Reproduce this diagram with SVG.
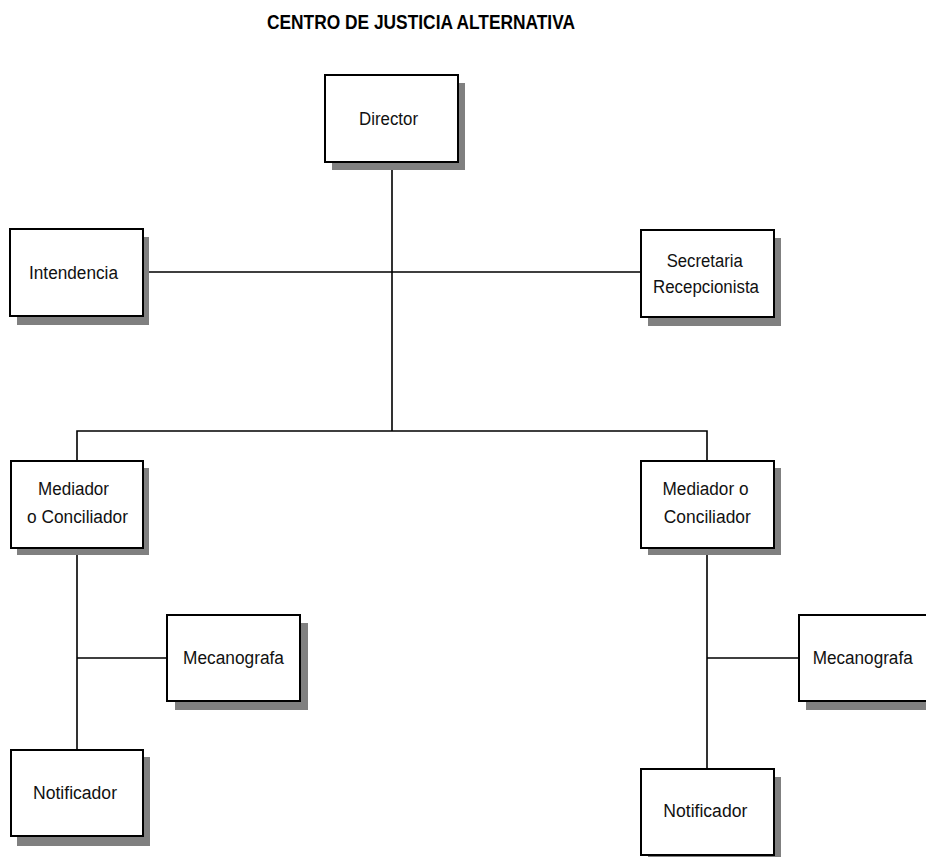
<svg xmlns="http://www.w3.org/2000/svg" width="926" height="857" viewBox="0 0 926 857">
<style>
.sh{fill:#808080;stroke:none}
.bx{fill:#fff;stroke:#000;stroke-width:2}
.t{font-family:"Liberation Sans",Arial,sans-serif;font-size:18px;fill:#111;text-anchor:middle}
.ttl{font-family:"Liberation Sans",Arial,sans-serif;font-size:20px;font-weight:bold;fill:#000}
.c{stroke:#000;stroke-width:1.6;fill:none}
</style>
<rect width="926" height="857" fill="#fff"/>
<text class="ttl" x="267" y="29" textLength="308" lengthAdjust="spacingAndGlyphs">CENTRO DE JUSTICIA ALTERNATIVA</text>
<g id="connectors">
<path class="c" d="M392 162V431M143 272H641M77 461V431H707V461M77 548V750M77 658H167M707 548V769M707 658H799"/>
</g>
<g id="director">
<rect class="sh" x="332" y="83" width="133" height="87"/>
<rect class="bx" x="325" y="75" width="133" height="87"/>
<text class="t" x="388.5" y="125" textLength="59" lengthAdjust="spacingAndGlyphs">Director</text>
</g>
<g id="intendencia">
<rect class="sh" x="17" y="237" width="132" height="88"/>
<rect class="bx" x="10" y="229" width="133" height="87"/>
<text class="t" x="73.5" y="279" textLength="89" lengthAdjust="spacingAndGlyphs">Intendencia</text>
</g>
<g id="secretaria">
<rect class="sh" x="648" y="238" width="133" height="88"/>
<rect class="bx" x="641" y="230" width="133" height="87"/>
<text class="t" x="704.7" y="266.7" textLength="76" lengthAdjust="spacingAndGlyphs">Secretaria</text>
<text class="t" x="706" y="292.7" textLength="106" lengthAdjust="spacingAndGlyphs">Recepcionista</text>
</g>
<g id="mediador-izq">
<rect class="sh" x="17" y="468" width="132" height="87"/>
<rect class="bx" x="11" y="461" width="132" height="87"/>
<text class="t" x="73.5" y="495" textLength="71" lengthAdjust="spacingAndGlyphs">Mediador</text>
<text class="t" x="77.5" y="523" textLength="101" lengthAdjust="spacingAndGlyphs">o Conciliador</text>
</g>
<g id="mediador-der">
<rect class="sh" x="648" y="468" width="133" height="87"/>
<rect class="bx" x="641" y="461" width="133" height="87"/>
<text class="t" x="705.5" y="495" textLength="86" lengthAdjust="spacingAndGlyphs">Mediador o</text>
<text class="t" x="707.3" y="523" textLength="87" lengthAdjust="spacingAndGlyphs">Conciliador</text>
</g>
<g id="mecanografa-izq">
<rect class="sh" x="175" y="623" width="133" height="87"/>
<rect class="bx" x="167" y="615" width="133" height="86"/>
<text class="t" x="233.5" y="664" textLength="101" lengthAdjust="spacingAndGlyphs">Mecanografa</text>
</g>
<g id="mecanografa-der">
<rect class="sh" x="806" y="623" width="133" height="87"/>
<rect class="bx" x="799" y="615" width="133" height="86"/>
<text class="t" x="862.7" y="664" textLength="100" lengthAdjust="spacingAndGlyphs">Mecanografa</text>
</g>
<g id="notificador-izq">
<rect class="sh" x="17" y="757" width="133" height="89"/>
<rect class="bx" x="11" y="750" width="132" height="86"/>
<text class="t" x="75" y="799" textLength="84" lengthAdjust="spacingAndGlyphs">Notificador</text>
</g>
<g id="notificador-der">
<rect class="sh" x="648" y="777" width="133" height="87"/>
<rect class="bx" x="641" y="769" width="133" height="86"/>
<text class="t" x="705.3" y="817.3" textLength="84" lengthAdjust="spacingAndGlyphs">Notificador</text>
</g>
</svg>
